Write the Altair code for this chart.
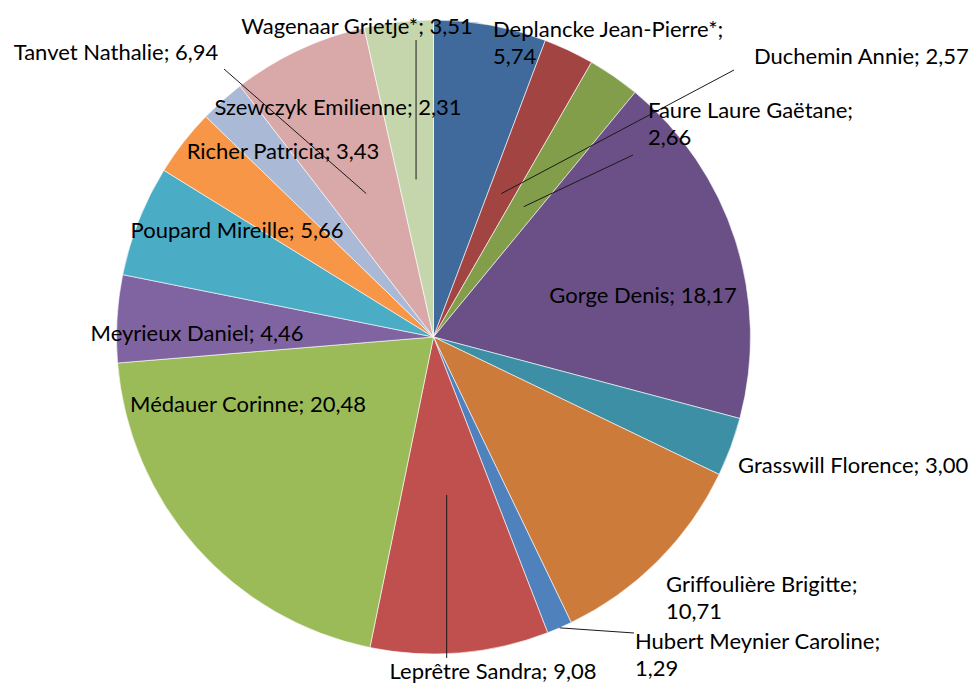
import math
import altair as alt
import pandas as pd

# ---- data ----
names = [
    "Deplancke Jean-Pierre*", "Duchemin Annie", "Faure Laure Gaëtane", "Gorge Denis",
    "Grasswill Florence", "Griffoulière Brigitte", "Hubert Meynier Caroline",
    "Leprêtre Sandra", "Médauer Corinne", "Meyrieux Daniel", "Poupard Mireille",
    "Richer Patricia", "Szewczyk Emilienne", "Tanvet Nathalie", "Wagenaar Grietje*",
]
values = [5.74, 2.57, 2.66, 18.17, 3.00, 10.71, 1.29, 9.08, 20.48, 4.46, 5.66,
          3.43, 2.31, 6.94, 3.51]
# label text wrapping as in the reference ("|" = line break)
label_texts = [
    "Deplancke Jean-Pierre*;|5,74", "Duchemin Annie; 2,57", "Faure Laure Gaëtane;|2,66",
    "Gorge Denis; 18,17", "Grasswill Florence; 3,00", "Griffoulière Brigitte;|10,71",
    "Hubert Meynier Caroline;|1,29", "Leprêtre Sandra; 9,08", "Médauer Corinne; 20,48",
    "Meyrieux Daniel; 4,46", "Poupard Mireille; 5,66", "Richer Patricia; 3,43",
    "Szewczyk Emilienne; 2,31", "Tanvet Nathalie; 6,94", "Wagenaar Grietje*; 3,51",
]

# ---- styles / layout ----
colors = ["#3F6A9B", "#A24441", "#839E4A", "#6A5087", "#3D8FA5", "#CC7B3A",
          "#4F81BD", "#C0504D", "#9BBB59", "#8064A2", "#4BACC6", "#F79646",
          "#AAB9D6", "#D8A9A8", "#C6D6AC"]
CX, CY, R = 425.5, 329.0, 317.0
FONT, FS = "Lato", 22
# label anchor (first line) relative to pie centre (dx, dy, align)
label_layout = [
    (59.5, -307, "left"), (320.5, -280, "left"), (214.5, -226, "left"),
    (209.5, -41, "center"), (304.5, 129, "left"), (232.5, 248, "left"),
    (201.5, 305, "left"), (59.5, 335, "center"), (-185.5, 68, "center"),
    (-236.5, -3, "center"), (-196.5, -106, "center"), (-150.5, -185, "center"),
    (-95.5, -229, "center"), (-317.5, -284, "center"), (-76.5, -310, "center"),
]
# leader lines: slice index, start radius fraction, end offset from centre
leaders = [
    (1, 0.5, (300.5, -267)), (2, 0.5, (199.5, -182)), (6, 1.0, (200.5, 296)),
    (7, 0.5, (None, 321)), (13, 0.5, (-209.5, -268)), (14, 0.5, (None, -297)),
]

df = pd.DataFrame({"name": names, "value": values, "idx": list(range(len(names)))})

total = sum(values)
cum = 0.0
mids = []
for v in values:
    mids.append((cum + v / 2) / total * 2 * math.pi)
    cum += v

lab = pd.DataFrame({
    "text": label_texts,
    "x": [CX + l[0] for l in label_layout],
    "y": [CY + l[1] for l in label_layout],
    "align": [l[2] for l in label_layout],
})

rows = []
for i, frac, (ex, ey) in leaders:
    sx = CX + frac * R * math.sin(mids[i])
    sy = CY - frac * R * math.cos(mids[i])
    rows.append({"x": sx, "y": sy, "x2": sx if ex is None else CX + ex, "y2": CY + ey})
lead = pd.DataFrame(rows)

pie = alt.Chart(df).mark_arc(outerRadius=R, stroke="#ffffff", strokeWidth=0.6).encode(
    theta=alt.Theta("value:Q", stack=True),
    order=alt.Order("idx:Q"),
    color=alt.Color("name:N", scale=alt.Scale(domain=names, range=colors), legend=None),
    x=alt.value(CX),
    y=alt.value(CY),
)

lines = alt.Chart(lead).mark_rule(color="#1a1a1a", strokeWidth=1).encode(
    x=alt.X("x:Q", scale=None), y=alt.Y("y:Q", scale=None),
    x2="x2:Q", y2="y2:Q",
)

def text_layer(align):
    return alt.Chart(lab[lab["align"] == align]).mark_text(
        font=FONT, fontSize=FS, color="#000000", align=align, baseline="middle",
        lineBreak="|", lineHeight=27,
    ).encode(
        x=alt.X("x:Q", scale=None), y=alt.Y("y:Q", scale=None), text="text:N",
    )

chart = alt.layer(pie, lines, text_layer("left"), text_layer("center")).properties(
    width=962, height=677, autosize=alt.AutoSizeParams(type="none"), padding=0,
).configure_view(stroke=None)

chart.save("out.html", embed_options={"renderer": "svg", "actions": False})
